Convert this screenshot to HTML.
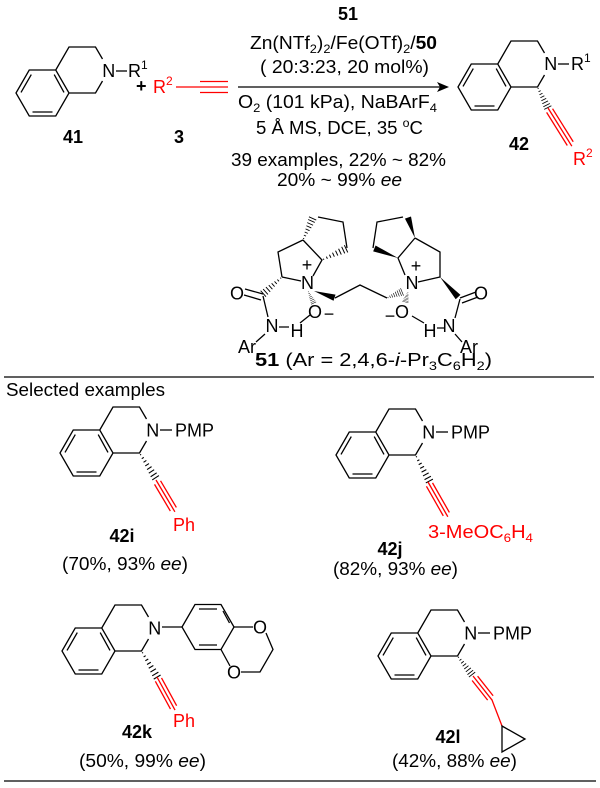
<!DOCTYPE html>
<html><head><meta charset="utf-8"><style>html,body{margin:0;padding:0;background:#fff}svg{display:block}text{font-family:"Liberation Sans",Arial,sans-serif;font-size:18px}</style></head><body>
<svg width="600" height="788" viewBox="0 0 600 788" xmlns="http://www.w3.org/2000/svg">
<defs>
<g id="q" fill="none" stroke="#000" stroke-width="1.3"><path d="M0 0L13.25 -23L39.75 -23L53 0L39.75 23L13.25 23Z M5 -0.6L15.3 -18.4 M16.5 19L36.5 19 M38.2 -18.4L48 -0.6 M39.75 -23L53 -46L79.5 -46L86.5 -34 M53 0L79.5 0L86.5 -12"/></g>
<g id="h" stroke="#000" stroke-width="1.1"><line x1="2" y1="-0.6" x2="2" y2="0.6"/><line x1="6" y1="-1.2" x2="6" y2="1.2"/><line x1="10" y1="-1.7" x2="10" y2="1.7"/><line x1="14" y1="-2.2" x2="14" y2="2.2"/><line x1="18" y1="-2.7" x2="18" y2="2.7"/><line x1="22" y1="-3.2" x2="22" y2="3.2"/><line x1="26" y1="-3.6" x2="26" y2="3.6"/><line x1="29.5" y1="-4" x2="29.5" y2="4"/></g>
<polygon id="w" points="0,0 30,-3.2 30,3.2" fill="#000"/>
</defs>
<rect width="600" height="788" fill="#fff"/>

<!-- 41 -->
<use href="#q" transform="translate(16,93)"/>
<text x="108.75" y="77" text-anchor="middle">N</text>
<line x1="116" y1="71" x2="127" y2="71" stroke="#000" stroke-width="1.3"/>
<text x="128" y="77">R<tspan dy="-8" font-size="12">1</tspan></text>
<text x="136" y="92" font-weight="bold">+</text>
<text x="153" y="93" fill="red">R<tspan dy="-8" font-size="12">2</tspan></text>
<g stroke="red" stroke-width="1.3"><line x1="176" y1="87" x2="228" y2="87"/><line x1="200" y1="81.5" x2="228" y2="81.5"/><line x1="200" y1="92.5" x2="228" y2="92.5"/></g>
<text x="73" y="143" font-weight="bold" text-anchor="middle">41</text>
<text x="179" y="143" font-weight="bold" text-anchor="middle">3</text>

<!-- arrow & conditions -->
<line x1="238" y1="87" x2="443" y2="87" stroke="#000" stroke-width="1.3"/>
<polygon points="449,87 437,82 440,87 437,92" fill="#000"/>
<text x="338" y="20" font-weight="bold" textLength="20" lengthAdjust="spacingAndGlyphs">51</text>
<text x="250" y="49" textLength="187" lengthAdjust="spacingAndGlyphs">Zn(NTf<tspan dy="4" font-size="12">2</tspan><tspan dy="-4">)</tspan><tspan dy="4" font-size="12">2</tspan><tspan dy="-4">/Fe(OTf)</tspan><tspan dy="4" font-size="12">2</tspan><tspan dy="-4">/</tspan><tspan font-weight="bold">50</tspan></text>
<text x="260" y="73" textLength="169" lengthAdjust="spacingAndGlyphs">( 20:3:23, 20 mol%)</text>
<text x="238" y="108" textLength="199" lengthAdjust="spacingAndGlyphs">O<tspan dy="4" font-size="12">2</tspan><tspan dy="-4"> (101 kPa), NaBArF</tspan><tspan dy="4" font-size="12">4</tspan></text>
<text x="256" y="134" textLength="167" lengthAdjust="spacingAndGlyphs">5 Å MS, DCE, 35 <tspan dy="-7" font-size="12">o</tspan><tspan dy="7">C</tspan></text>
<text x="231" y="166" textLength="215" lengthAdjust="spacingAndGlyphs">39 examples, 22% ~ 82%</text>
<text x="277" y="186" textLength="125" lengthAdjust="spacingAndGlyphs">20% ~ 99% <tspan font-style="italic">ee</tspan></text>

<!-- 42 -->
<use href="#q" transform="translate(458,87)"/>
<text x="550.75" y="70" text-anchor="middle">N</text>
<line x1="558" y1="64" x2="569" y2="64" stroke="#000" stroke-width="1.3"/>
<text x="571" y="70">R<tspan dy="-8" font-size="12">1</tspan></text>
<use href="#h" transform="translate(537.5,87) rotate(63.4) scale(0.78,1)"/>
<g transform="translate(548,108) rotate(58)" stroke="red" stroke-width="1.3"><line x1="0" y1="0" x2="45" y2="0"/><line x1="3" y1="-3.5" x2="42" y2="-3.5"/><line x1="3" y1="3.5" x2="42" y2="3.5"/></g>
<text x="573" y="165" fill="red">R<tspan dy="-8" font-size="12">2</tspan></text>
<text x="519" y="150" font-weight="bold" text-anchor="middle">42</text>

<!-- ligand 51 -->
<g fill="none" stroke="#000" stroke-width="1.3">
<path d="M282 277L278 252L303 240M303 240L322 260L313 276M282 277L301 281"/>
<path d="M318 217L343 222L347 248"/>
<path d="M245 289L263 294M244 295L261 300M263 296L268 317M279 327L289 327M300 323L310 315M265 334L256 342"/>
<path d="M335 298L360 285L387 298"/>
<path d="M418 282L440 277L440 252L415 238M415 238L398 258L405 275"/>
<path d="M403 217L377 222L373 248"/>
<path d="M460 298L476 292M462 303L478 297M460 299L455 318M437 328L444 328M424 323L412 316M455 334L462 342"/>
</g>
<use href="#h" transform="translate(282,277) rotate(138.2) scale(0.85,1)"/>
<use href="#h" transform="translate(303,240) rotate(-66) scale(0.8,1)"/>
<use href="#h" transform="translate(322,260) rotate(-25) scale(0.9,1)"/>
<use href="#h" transform="translate(308,291) rotate(65) scale(0.45,0.7)"/>
<use href="#h" transform="translate(387,298) rotate(-22) scale(0.55,1)"/>
<use href="#h" transform="translate(408,292) rotate(105) scale(0.35,0.8)"/>
<use href="#w" transform="translate(314,291) rotate(18) scale(0.72,1)"/>
<use href="#w" transform="translate(415,238) rotate(-109) scale(0.72,1)"/>
<use href="#w" transform="translate(398,258) rotate(202) scale(0.85,1)"/>
<use href="#w" transform="translate(440,277) rotate(48) scale(0.9,1)"/>
<text x="237" y="299.5" text-anchor="middle">O</text>
<text x="307.5" y="289" text-anchor="middle">N</text>
<text x="307" y="271" font-size="12" text-anchor="middle">+</text>
<text x="315" y="318" text-anchor="middle">O</text>
<text x="329" y="320" font-size="13" text-anchor="middle">−</text>
<text x="272" y="332" text-anchor="middle">N</text>
<text x="297" y="337" text-anchor="middle">H</text>
<text x="247" y="353" text-anchor="middle">Ar</text>
<text x="412" y="289" text-anchor="middle">N</text>
<text x="416" y="272" font-size="12" text-anchor="middle">+</text>
<text x="402" y="318" text-anchor="middle">O</text>
<text x="390" y="322" font-size="13" text-anchor="middle">−</text>
<text x="481" y="299.5" text-anchor="middle">O</text>
<text x="449" y="332" text-anchor="middle">N</text>
<text x="430" y="337" text-anchor="middle">H</text>
<text x="469" y="353" text-anchor="middle">Ar</text>
<text x="255" y="366" textLength="237" lengthAdjust="spacingAndGlyphs"><tspan font-weight="bold">51</tspan> (Ar = 2,4,6-<tspan font-style="italic">i</tspan>-Pr<tspan dy="4" font-size="12">3</tspan><tspan dy="-4">C</tspan><tspan dy="4" font-size="12">6</tspan><tspan dy="-4">H</tspan><tspan dy="4" font-size="12">2</tspan><tspan dy="-4">)</tspan></text>

<line x1="4" y1="377" x2="594" y2="377" stroke="#000" stroke-width="1.3"/>
<text x="6" y="396" textLength="159" lengthAdjust="spacingAndGlyphs">Selected examples</text>

<!-- 42i -->
<use href="#q" transform="translate(60,453)"/>
<text x="152.75" y="436.5" text-anchor="middle">N</text>
<line x1="160" y1="430" x2="172" y2="430" stroke="#000" stroke-width="1.3"/>
<text x="175" y="436.5" textLength="39" lengthAdjust="spacingAndGlyphs">PMP</text>
<use href="#h" transform="translate(139.5,453) rotate(57) scale(1,1)"/>
<g transform="translate(156,480) rotate(59.3)" stroke="red" stroke-width="1.3"><line x1="0" y1="0" x2="37" y2="0"/><line x1="3" y1="-3.5" x2="34" y2="-3.5"/><line x1="3" y1="3.5" x2="34" y2="3.5"/></g>
<text x="173" y="531" fill="red">Ph</text>
<text x="122" y="542" font-weight="bold" text-anchor="middle">42i</text>
<text x="62" y="570" textLength="126" lengthAdjust="spacingAndGlyphs">(70%, 93% <tspan font-style="italic">ee</tspan>)</text>

<!-- 42j -->
<use href="#q" transform="translate(336,455)"/>
<text x="428.75" y="438.5" text-anchor="middle">N</text>
<line x1="436" y1="432" x2="448" y2="432" stroke="#000" stroke-width="1.3"/>
<text x="451" y="438.5" textLength="39" lengthAdjust="spacingAndGlyphs">PMP</text>
<use href="#h" transform="translate(415.5,455) rotate(62) scale(1,1)"/>
<g transform="translate(428,482) rotate(60.3)" stroke="red" stroke-width="1.3"><line x1="0" y1="0" x2="40" y2="0"/><line x1="3" y1="-3.5" x2="37" y2="-3.5"/><line x1="3" y1="3.5" x2="37" y2="3.5"/></g>
<text x="428" y="538" fill="red" textLength="105" lengthAdjust="spacingAndGlyphs">3-MeOC<tspan dy="4" font-size="12">6</tspan><tspan dy="-4">H</tspan><tspan dy="4" font-size="12">4</tspan></text>
<text x="390" y="555" font-weight="bold" text-anchor="middle">42j</text>
<text x="333" y="575" textLength="125" lengthAdjust="spacingAndGlyphs">(82%, 93% <tspan font-style="italic">ee</tspan>)</text>

<!-- 42k -->
<use href="#q" transform="translate(62,651)"/>
<text x="154.75" y="634.5" text-anchor="middle">N</text>
<g fill="none" stroke="#000" stroke-width="1.3">
<path d="M162 627L182 627"/>
<path d="M182 627L195 604.5L221 604.5L234 627L221 649.5L195 649.5Z"/>
<path d="M199 609L217 609M223 611L229.5 623M199 645L217 645"/>
<path d="M234 627L253 627M266 633L273 649.5L260 672L241 672M230 666L221 649.5"/>
</g>
<text x="260" y="633.5" text-anchor="middle">O</text>
<text x="234" y="678.5" text-anchor="middle">O</text>
<use href="#h" transform="translate(141.5,651) rotate(59) scale(1.03,1)"/>
<g transform="translate(157,677) rotate(61.4)" stroke="red" stroke-width="1.3"><line x1="0" y1="0" x2="37.6" y2="0"/><line x1="3" y1="-3.5" x2="34.6" y2="-3.5"/><line x1="3" y1="3.5" x2="34.6" y2="3.5"/></g>
<text x="173" y="727" fill="red">Ph</text>
<text x="137" y="738" font-weight="bold" text-anchor="middle">42k</text>
<text x="79" y="767" textLength="127" lengthAdjust="spacingAndGlyphs">(50%, 99% <tspan font-style="italic">ee</tspan>)</text>

<!-- 42l -->
<use href="#q" transform="translate(378,656)"/>
<text x="470.75" y="639.5" text-anchor="middle">N</text>
<line x1="478" y1="633" x2="490" y2="633" stroke="#000" stroke-width="1.3"/>
<text x="493" y="639.5" textLength="39" lengthAdjust="spacingAndGlyphs">PMP</text>
<use href="#h" transform="translate(457.5,656) rotate(52) scale(0.8,1)"/>
<g transform="translate(473,676) rotate(51.6)" stroke="red" stroke-width="1.3"><line x1="0" y1="0" x2="31" y2="0"/><line x1="3" y1="-3.5" x2="28" y2="-3.5"/><line x1="3" y1="3.5" x2="28" y2="3.5"/></g>
<line x1="492" y1="700" x2="502" y2="726" stroke="red" stroke-width="1.3"/>
<path d="M502 726L525 739L502 752Z" fill="none" stroke="#000" stroke-width="1.3"/>
<text x="448" y="743" font-weight="bold" text-anchor="middle">42l</text>
<text x="392" y="767" textLength="125" lengthAdjust="spacingAndGlyphs">(42%, 88% <tspan font-style="italic">ee</tspan>)</text>

<line x1="4" y1="781" x2="596" y2="781" stroke="#000" stroke-width="1.3"/>
</svg>
</body></html>
